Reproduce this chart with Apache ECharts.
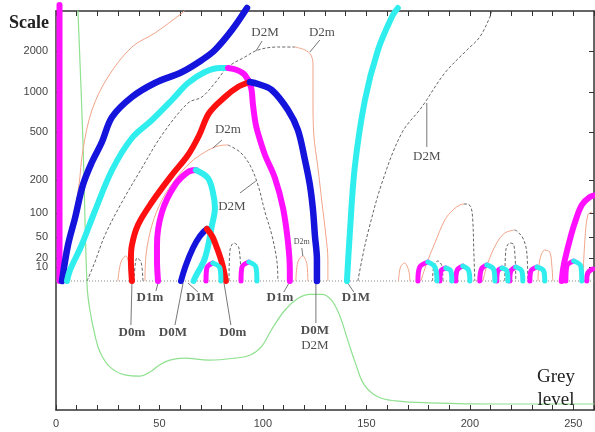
<!DOCTYPE html>
<html>
<head>
<meta charset="utf-8">
<script src="https://cdn.jsdelivr.net/npm/echarts@6/dist/echarts.min.js"></script>
<style>
  html, body { margin: 0; background: #fff; }
  #chart { width: 595px; height: 432px; }
</style>
</head>
<body>
<div id="chart"></div>
<script>
// x = grey level, y = scale level (0 = scale-space baseline, below it the histogram panel)
const greyTicks = [0, 10, 20, 30, 40, 50, 60, 70, 80, 90, 100, 110, 120, 130, 140, 150, 160, 170, 180, 190, 200, 210, 220, 230, 240, 250, 260];
const greyLabels = [0, 50, 100, 150, 200, 250];
const scaleLabels = ['10', '20', '50', '100', '200', '500', '1000', '2000'];
const scaleLevels = [14, 23, 44, 68, 101, 149, 189, 230];

// thick ridges (D0 / D1 extrema)
const magentaLeft = [[1.7, 0], [1.7, 276]];
const blueOuter = [[2.9, 0], [5.8, 36], [9.2, 63], [13, 96], [17.4, 119], [22.2, 139], [27.1, 164], [36.7, 184], [47.8, 198], [60.9, 209], [70.5, 221], [76.8, 231], [85, 251], [92.3, 273]];
const cyanOuter = [[5.3, 0], [6.8, 11], [12.4, 36], [18.8, 70], [27.1, 111], [36.7, 143], [46.4, 161], [56, 181], [63.8, 198], [72, 209], [79.2, 213], [83.1, 213]];
const magentaBig = [[83.1, 213], [87.4, 211], [91.3, 206], [94.2, 194], [95.2, 176], [96.6, 156], [98.6, 141], [101, 126], [105.8, 103], [109.7, 73], [112.1, 39], [113, 11], [113, 0]];
const redBig = [[36.7, 0], [36.2, 21], [36.7, 36], [39.6, 56], [46.4, 79], [56, 106], [63.8, 126], [69, 145], [74, 168], [81.6, 184], [87.9, 194], [93.7, 199]];
const blueBig = [[93.7, 199], [97.6, 197], [104.3, 191], [112.1, 171], [116.9, 151], [120.3, 121], [122.7, 96], [124.2, 71], [125.1, 46], [126.1, 21], [126.1, 0]];
const magentaMid = [[49.3, 0], [48.8, 21], [48.8, 36], [51.2, 69], [57.5, 96], [63.8, 109], [67.6, 111]];
const cyanMid = [[67.6, 111], [73.4, 103], [75.8, 89], [76.8, 73], [75.4, 56], [72, 23], [67.1, 3], [66.5, 0]];
const blueSmall = [[60.4, 0], [62.8, 16], [66.2, 33], [69.6, 45], [72.9, 52]];
const redSmall = [[72.9, 52], [75.4, 45], [77.8, 33], [80.2, 18], [82.1, 0]];
const cyanRight = [[140.6, 0], [142, 48], [144.4, 114], [149.3, 181], [155.6, 231], [162.3, 264], [165.2, 273]];
const magentaFarRight = [[244.4, 0], [245.4, 16], [248.3, 41], [250.7, 58], [254.1, 76], [258, 84], [261, 86]];

// small annihilating pairs near the baseline: magenta leg then cyan leg
const humpMagenta = [
  [[72.5, 0], [72.9, 13], [75.8, 18]],
  [[89.4, 0], [89.9, 14], [93.2, 19]],
  [[174.9, 0], [175.8, 14], [179.7, 19]],
  [[185.5, 0], [186, 10], [188.4, 13]],
  [[193.2, 0], [193.9, 11], [196.6, 15]],
  [[204.8, 0], [205.6, 12], [208.2, 16]],
  [[213, 0], [213.5, 10], [215.5, 13]],
  [[219.3, 0], [219.8, 10], [222.2, 14]],
  [[229, 0], [229.5, 10], [232.4, 14]],
  [[246.4, 0], [246.9, 15], [250.2, 20]],
  [[256.5, 0], [257, 8], [259.4, 12]]
];
const humpCyan = [
  [[75.8, 18], [79.2, 13], [79.7, 0]],
  [[93.2, 19], [96.6, 14], [97.1, 0]],
  [[179.7, 19], [183.1, 14], [184.1, 0]],
  [[188.4, 13], [190.8, 10], [191.3, 0]],
  [[196.6, 15], [199.3, 11], [200, 0]],
  [[208.2, 16], [211.4, 12], [212.1, 0]],
  [[215.5, 13], [217.9, 10], [218.4, 0]],
  [[222.2, 14], [225.1, 10], [225.6, 0]],
  [[232.4, 14], [235.7, 10], [236.2, 0]],
  [[250.2, 20], [253.6, 15], [254.1, 0]]
];

// thin ridges (D2): salmon = D2m, dashed = D2M
const salmonLines = [
  [[3.4, 0], [5.8, 36], [8.7, 66], [11.1, 96], [13, 131], [17.4, 171], [25.1, 204], [36.7, 234], [47.8, 248], [60.9, 268], [62.8, 272]],
  [[115.5, 234], [120.3, 231], [123.2, 226], [124.2, 216], [124.2, 181], [124.6, 146], [126.6, 113], [128.5, 79], [130.4, 46], [131.4, 21], [131.4, 0]],
  [[43, 0], [43.5, 26], [46.4, 56], [51.2, 81], [57.5, 101], [64.7, 118], [72, 129], [78.3, 135], [83.1, 136]],
  [[176.3, 0], [179.2, 18], [183.1, 38], [187.9, 61], [191.8, 71], [195.2, 76], [197.1, 77]],
  [[206.3, 0], [208.7, 18], [213, 38], [216.9, 48], [221.7, 51]],
  [[232.9, 0], [233.8, 21], [236.2, 31], [238.6, 29], [239.6, 16], [240.1, 0]],
  [[254.6, 0], [255.6, 41], [257, 66], [258.9, 69]],
  [[29.9, 0], [31.4, 19], [33.8, 25], [35.3, 16], [35.7, 0]],
  [[115.9, 0], [116.9, 19], [119.3, 25], [121.3, 16], [121.7, 0]],
  [[165.5, 0], [166.5, 14], [168.5, 18], [170.5, 10], [171, 0]]
];
const dashedLines = [
  [[15, 0], [18.8, 19], [23.7, 46], [31.9, 79], [41.5, 113], [51.2, 146], [63.8, 178], [70.5, 184], [76.8, 198], [83.1, 214], [91.3, 224], [97.6, 231], [107.2, 234], [115.5, 234]],
  [[83.1, 136], [88.9, 129], [93.7, 116], [97.6, 96], [101, 69], [104.3, 46], [106.8, 19], [107.2, 0]],
  [[145.9, 0], [147.8, 21], [150.7, 48], [157.5, 98], [167.1, 148], [176.8, 174], [187.9, 208], [198.6, 231], [204.8, 244], [209.7, 264], [210.6, 270]],
  [[197.1, 77], [198.6, 77], [200.5, 74], [201.4, 61], [201.9, 31], [202.4, 0]],
  [[221.7, 51], [222.7, 50], [225.6, 43], [227.5, 29], [228, 0]],
  [[216.9, 0], [217.4, 31], [219.3, 38], [221.3, 36], [222.2, 0]],
  [[37.7, 0], [39.1, 23], [41.1, 19], [42, 0]],
  [[83.6, 0], [84.1, 31], [86, 38], [88.4, 33], [89.4, 0]],
  [[182, 0], [182.5, 14], [184.5, 20], [186.5, 15], [187, 0]]
];

// grey-level histogram (own axis, 0..100)
const histogram = [[10.3, 104], [13, 67.7], [15, 31.3], [16.4, 25], [18.8, 18.8], [21.3, 14.5], [26, 10.8], [33.3, 8.8], [40.6, 8.5], [45.4, 9.5], [50, 11.3], [55, 12.5], [62, 13], [74, 12.5], [86.5, 13], [94, 13.8], [99.5, 16], [104, 20], [110.6, 25], [117, 28], [122.7, 29], [128.5, 29], [133, 27.6], [137, 23.8], [141, 17.5], [145, 11.3], [149, 6.3], [155.5, 3.3], [164, 2.3], [180.7, 1.8], [214.5, 1.5], [260, 1.5]];

// annotations: text, grey, level, bold, size
const notes = [
  ['D2M', 101, 248, false, 13], ['D2m', 128.5, 248, false, 13],
  ['D2m', 83.1, 151, false, 13], ['D2M', 85, 74, false, 13],
  ['D2M', 179.2, 124, false, 13], ['D2m', 118.8, 39, false, 8],
  ['D1m', 45.4, -17, true, 13], ['D1M', 69.6, -17, true, 13],
  ['D1m', 108.2, -17, true, 13], ['D1M', 144.9, -17, true, 13],
  ['D0m', 36.7, -52, true, 13], ['D0M', 56.5, -52, true, 13],
  ['D0m', 85.5, -52, true, 13], ['D0M', 125.1, -50, true, 13],
  ['D2M', 125.1, -65, false, 13]
];
const leaders = [
  [[99.6, 240], [96.6, 230]], [[127.5, 241], [122.7, 229]],
  [[80.2, 141], [75.8, 133]], [[88.9, 88], [96.6, 100]],
  [[179.2, 178], [179.2, 134]], [[118.8, 33], [119.3, 25]],
  [[49.3, -2], [48.3, -10]], [[63.8, -2], [68.6, -11]],
  [[112.6, -2], [110.1, -11]], [[141, -2], [143.9, -11]],
  [[36.7, -2], [36.2, -44]], [[61.4, -2], [57.5, -44]],
  [[81.2, -2], [84.5, -44]], [[125.6, -2], [125.6, -42]]
];

const chart = echarts.init(document.getElementById('chart'));

const thick = (data, color, w) => ({
  type: 'line', data: data, smooth: 0.35, symbol: 'none', clip: false, z: 5,
  lineStyle: {color: color, width: w || 6, cap: 'round', join: 'round'}
});
const thin = (data, color, dashed) => ({
  type: 'line', data: data, smooth: 0.35, symbol: 'none', z: 3,
  lineStyle: {color: color, width: dashed ? 0.9 : 1, type: dashed ? [3, 2] : 'solid'}
});

const series = [];
series.push({
  type: 'line', data: [[0, 0], [260, 0]], symbol: 'none', z: 2,
  lineStyle: {color: '#888', width: 1, type: [1, 2]}
});
series.push({
  type: 'line', yAxisIndex: 2, data: histogram, smooth: 0.4, symbol: 'none', z: 2,
  lineStyle: {color: '#8fe08f', width: 1.2}
});
salmonLines.forEach((d) => series.push(thin(d, '#f2a489', false)));
dashedLines.forEach((d) => series.push(thin(d, '#555', true)));
leaders.forEach((d) => series.push({
  type: 'line', data: d, symbol: 'none', z: 3, clip: false,
  lineStyle: {color: '#555', width: 0.8}
}));

series.push(thick(magentaLeft, '#ff10ff'));
series.push(thick(blueOuter, '#1414dc', 6.5));
series.push(thick(cyanOuter, '#30eeee'));
series.push(thick(magentaBig, '#ff10ff'));
series.push(thick(redBig, '#ff1010'));
series.push(thick(blueBig, '#1414dc', 6.5));
series.push(thick(magentaMid, '#ff10ff'));
series.push(thick(cyanMid, '#30eeee'));
series.push(thick(blueSmall, '#1414dc'));
series.push(thick(redSmall, '#ff1010'));
series.push(thick(cyanRight, '#30eeee'));
series.push(thick(magentaFarRight, '#ff10ff'));
humpMagenta.forEach((d) => series.push(thick(d, '#ff10ff', 5)));
humpCyan.forEach((d) => series.push(thick(d, '#30eeee', 5)));

series.push({
  type: 'scatter', symbolSize: 1, z: 10, itemStyle: {color: 'rgba(0,0,0,0)'},
  data: notes.map((n) => ({
    value: [n[1], n[2]],
    label: {
      show: true, position: 'inside', formatter: n[0],
      fontFamily: 'Liberation Serif', fontSize: n[4],
      fontWeight: n[3] ? 'bold' : 'normal', color: '#222'
    }
  }))
});

const levelLabel = (v) => {
  let best = 0;
  scaleLevels.forEach((l, i) => { if (Math.abs(l - v) < Math.abs(scaleLevels[best] - v)) best = i; });
  return scaleLabels[best];
};
const labelStyle = {color: '#444', fontSize: 11, fontFamily: 'Arial', margin: 8, hideOverlap: false};

chart.setOption({
  animation: false,
  title: {
    text: 'Scale', left: 4, top: 9,
    textStyle: {fontFamily: 'Liberation Serif', fontWeight: 'bold', fontSize: 18, color: '#222'}
  },
  graphic: [{
    type: 'text', x: 556, y: 366, z: 20,
    style: {
      text: 'Grey\nlevel', textAlign: 'center', verticalAlign: 'top',
      font: '19px "Liberation Serif"', lineHeight: 23, fill: '#222'
    }
  }],
  grid: {left: 56, right: 1, top: 11, bottom: 22},
  xAxis: [{
    type: 'value', position: 'bottom', min: 0, max: 260,
    axisLine: {onZero: false, lineStyle: {color: '#333', width: 1.5}},
    axisTick: {inside: true, length: 5, customValues: greyTicks, lineStyle: {color: '#333'}},
    axisLabel: Object.assign({customValues: greyLabels}, labelStyle),
    splitLine: {show: false}
  }, {
    type: 'value', position: 'top', min: 0, max: 260,
    axisLine: {show: true, onZero: false, lineStyle: {color: '#333', width: 1.5}},
    axisTick: {inside: true, length: 5, customValues: greyTicks, lineStyle: {color: '#333'}},
    axisLabel: {show: false},
    splitLine: {show: false}
  }],
  yAxis: [{
    type: 'value', position: 'left', min: -129, max: 270,
    axisLine: {show: true, onZero: false, lineStyle: {color: '#333', width: 1.5}},
    axisTick: {show: true, inside: true, length: 5, customValues: scaleLevels},
    axisLabel: Object.assign({customValues: scaleLevels.filter((l, i) => i % 2 === 1), formatter: levelLabel}, labelStyle),
    splitLine: {show: false}
  }, {
    type: 'value', position: 'right', min: -129, max: 270,
    axisLine: {show: true, onZero: false, lineStyle: {color: '#333', width: 1.5}},
    axisTick: {show: true, inside: true, length: 5, customValues: scaleLevels, lineStyle: {color: '#333'}},
    axisLabel: {show: false},
    splitLine: {show: false}
  }, {
    type: 'value', min: 0, max: 100, show: false
  }, {
    // second label layer so the tightly stacked labels (10 / 20, 50 / 100 ...) all show
    type: 'value', position: 'left', min: -129, max: 270,
    axisLine: {show: false, onZero: false}, axisTick: {show: false},
    axisLabel: Object.assign({customValues: scaleLevels.filter((l, i) => i % 2 === 0), formatter: levelLabel}, labelStyle),
    splitLine: {show: false}
  }],
  series: series
});
</script>
</body>
</html>
